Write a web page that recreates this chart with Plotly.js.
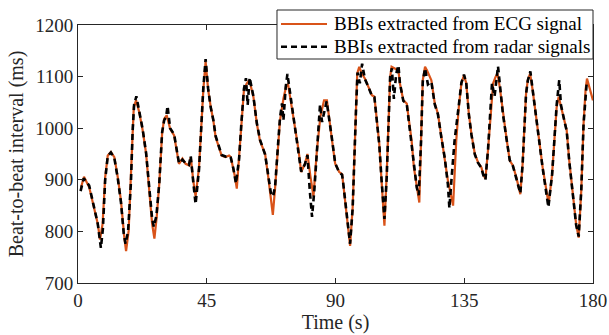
<!DOCTYPE html>
<html>
<head>
<meta charset="utf-8">
<script src="https://cdn.plot.ly/plotly-3.0.1.min.js"></script>
<style>html,body{margin:0;padding:0;background:#fff;}#chart{width:609px;height:335px;}</style>
</head>
<body>
<div id="chart"></div>
<script>
// ECG-derived beat-to-beat intervals (s, ms)
const ecgTime = [1.05,2.1,3.95,5.7,6.9,7.7,8.6,9.5,10.4,11.5,12.7,13.9,15.0,16.2,16.8,17.7,18.5,19.1,19.5,20.3,21.4,22.6,23.8,24.9,25.9,26.7,27.5,28.4,29.4,30.1,31.0,32.2,33.6,34.7,35.3,36.5,37.6,38.8,39.4,40.3,41.1,42.3,43.1,43.8,44.6,45.5,46.4,47.3,48.1,49.3,50.2,51.6,52.8,53.4,54.3,54.9,55.5,56.3,57.1,58.0,59.0,59.9,61.3,62.5,63.6,65.4,66.5,67.4,68.1,68.9,70.0,70.6,71.8,72.7,73.4,74.8,76.0,77.1,78.0,79.3,80.2,81.2,82.3,83.5,84.7,86.0,87.0,88.8,89.9,91.3,92.3,92.7,93.7,94.5,95.1,96.0,96.5,97.2,97.6,98.3,99.2,100.3,101.5,102.7,103.6,104.4,105.3,106.1,106.7,107.1,107.9,108.5,109.1,109.6,110.8,112.0,112.5,113.7,114.9,116.0,116.6,117.4,118.4,119.3,119.9,120.5,121.3,122.0,123.5,124.7,125.8,127.0,128.2,129.3,130.5,131.1,132.2,133.1,134.0,134.9,135.7,136.6,137.5,138.7,139.8,141.0,141.6,142.4,143.3,144.3,145.1,145.9,146.6,147.4,148.5,149.7,150.9,152.0,153.2,154.0,154.6,155.4,156.0,156.6,157.2,158.0,158.9,160.1,161.2,162.4,163.6,164.5,165.7,166.5,167.3,168.0,168.8,170.0,170.8,171.7,172.9,174.1,175.0,175.9,176.7,177.4,177.9,178.7,180.0];
const ecgBBI = [885,906,885,840,815,784,815,905,947,954,944,905,860,788,762,801,892,990,1041,1054,1031,996,951,879,815,786,827,892,990,1018,1025,999,986,950,931,941,931,928,944,898,868,924,1009,1074,1129,1074,1041,1015,983,963,947,944,947,944,924,905,883,944,1009,1074,1087,1093,1061,1009,976,950,905,860,832,885,976,1015,1057,1080,1086,1041,996,957,915,931,950,908,868,957,1022,1054,1054,976,931,915,911,892,840,801,772,847,944,1041,1106,1119,1106,1096,1080,1064,1061,1022,970,898,834,811,911,1009,1099,1119,1116,1112,1087,1054,1048,996,976,924,885,856,976,1093,1119,1112,1093,1048,1028,983,944,898,866,850,976,1041,1087,1103,1087,1028,989,950,934,924,911,902,957,1028,1087,1099,1106,1080,1028,983,937,928,905,885,872,931,1009,1067,1093,1106,1074,1028,976,924,885,853,911,983,1041,1061,1041,1015,996,937,872,814,788,879,1009,1074,1096,1080,1054];

// Radar-derived beat-to-beat intervals (s, ms)
const radarTime = [0.9,2.0,3.9,5.7,6.9,8.0,8.7,9.5,10.4,11.5,12.7,13.9,15.0,16.0,16.6,17.5,18.5,19.1,19.6,20.4,21.4,22.6,23.8,24.9,25.9,26.5,27.4,28.4,29.4,30.1,30.8,31.3,32.2,33.6,34.7,35.3,36.5,37.6,38.8,39.4,40.3,41.1,42.3,43.1,43.8,44.6,45.5,46.4,47.3,48.1,49.3,50.2,51.6,52.8,53.4,54.3,55.2,56.3,57.1,58.0,58.7,59.3,60.0,61.3,62.5,63.6,65.4,66.5,67.4,68.2,68.9,70.0,70.6,71.3,71.8,72.6,73.2,74.8,76.0,77.1,78.0,79.3,80.2,81.0,81.8,82.6,83.5,84.6,85.3,86.3,86.9,88.8,89.9,91.3,92.3,92.7,93.7,94.5,95.1,96.0,96.5,97.2,97.7,98.5,99.3,100.3,101.5,102.7,103.6,104.4,105.3,106.1,106.7,107.1,107.9,108.5,109.1,109.7,110.4,111.2,112.0,112.5,113.7,114.9,116.0,116.6,117.4,118.4,119.1,119.9,120.5,121.3,122.3,123.5,124.7,125.8,127.0,128.2,129.3,129.8,130.6,131.6,133.0,134.0,134.9,135.7,136.6,137.5,138.7,139.8,141.0,141.6,142.4,143.3,144.7,145.6,146.8,147.4,148.5,149.7,150.9,152.0,153.2,154.0,154.6,155.4,156.0,156.6,157.2,158.1,158.9,160.1,161.2,162.4,163.6,164.4,165.7,166.5,167.3,168.2,168.8,170.0,170.8,171.7,172.9,174.1,175.0,175.9,176.7,177.4,177.8];
const radarBBI = [878,903,889,845,815,768,805,900,946,953,942,903,857,795,776,800,895,995,1045,1062,1033,998,952,880,825,809,830,893,992,1015,1022,1043,1000,988,952,932,939,932,929,946,895,853,920,1010,1078,1134,1076,1040,1016,985,962,948,945,946,943,922,893,940,1010,1076,1097,1045,1098,1062,1010,978,949,906,875,868,888,975,1020,1048,1015,1080,1105,1042,995,955,916,930,948,880,828,880,960,1046,1012,1040,1052,978,932,914,910,893,842,800,776,845,942,1040,1108,1087,1125,1095,1080,1063,1060,1022,968,900,840,824,905,1008,1100,1116,1057,1105,1122,1088,1053,1047,995,975,925,885,870,975,1090,1116,1085,1090,1046,1027,982,942,890,845,905,975,1040,1088,1104,1088,1027,988,949,933,923,910,900,958,1087,1062,1120,1082,1028,982,938,927,904,884,874,930,1008,1066,1092,1110,1075,1028,975,923,882,847,910,985,1045,1093,1045,1014,995,936,871,813,790,880,1008,1072,1088];

const seriesNames = ['BBIs extracted from ECG signal', 'BBIs extracted from radar signals'];
const xTicks = [0, 45, 90, 135, 180];
const yTicks = [700, 800, 900, 1000, 1100, 1200];

const serif = 'Liberation Serif, Times New Roman, serif';
const axisColor = '#262626';
const ecgColor = '#D95319';
const radarColor = '#000000';
const radarDash = '6px,4px';

const traces = [
  {x: ecgTime, y: ecgBBI, name: seriesNames[0], type: 'scatter', mode: 'lines',
   showlegend: false, line: {color: ecgColor, width: 2.2}},
  {x: radarTime, y: radarBBI, name: seriesNames[1], type: 'scatter', mode: 'lines',
   showlegend: false, line: {color: radarColor, width: 2.6, dash: radarDash}}
];

const axisCommon = {
  showline: true, linecolor: axisColor, linewidth: 1, mirror: 'ticks',
  ticks: 'inside', ticklen: 5, tickwidth: 1, tickcolor: axisColor,
  showgrid: false, zeroline: false,
  tickfont: {family: serif, size: 19, color: axisColor}
};

// Legend box (MATLAB-style, in paper coordinates of the plot area)
const lg = {x0: 0.3864, x1: 1.0, y0: 0.8682, y1: 1.0581, s0: 0.3942, s1: 0.4835, tx: 0.4932, rows: [1.0039, 0.9159]};
const shapes = [
  {type: 'rect', xref: 'paper', yref: 'paper', x0: lg.x0, x1: lg.x1, y0: lg.y0, y1: lg.y1,
   fillcolor: '#fff', line: {color: axisColor, width: 1}, layer: 'above'},
  {type: 'line', xref: 'paper', yref: 'paper', x0: lg.s0, x1: lg.s1, y0: lg.rows[0], y1: lg.rows[0],
   line: {color: ecgColor, width: 2.2}, layer: 'above'},
  {type: 'line', xref: 'paper', yref: 'paper', x0: lg.s0, x1: lg.s1, y0: lg.rows[1], y1: lg.rows[1],
   line: {color: radarColor, width: 2.6, dash: radarDash}, layer: 'above'}
];
const annotations = seriesNames.map((name, i) => ({
  xref: 'paper', yref: 'paper', x: lg.tx, y: lg.rows[i], xanchor: 'left', yanchor: 'middle',
  text: name, showarrow: false, font: {family: serif, size: 19, color: '#000'}
}));

const layout = {
  width: 609, height: 335,
  margin: {l: 78, r: 16, t: 25, b: 52},
  paper_bgcolor: '#fff', plot_bgcolor: '#fff',
  showlegend: false,
  shapes: shapes,
  annotations: annotations,
  xaxis: Object.assign({}, axisCommon, {
    range: [0, 180], tickvals: xTicks, ticktext: xTicks.map(String),
    title: {text: 'Time (s)', font: {family: serif, size: 20, color: axisColor}, standoff: 4}
  }),
  yaxis: Object.assign({}, axisCommon, {
    range: [700, 1200], tickvals: yTicks, ticktext: yTicks.map(String),
    title: {text: 'Beat-to-beat interval (ms)', font: {family: serif, size: 20, color: axisColor}, standoff: 6}
  })
};

Plotly.newPlot('chart', traces, layout, {staticPlot: true, displayModeBar: false});
</script>
</body>
</html>
